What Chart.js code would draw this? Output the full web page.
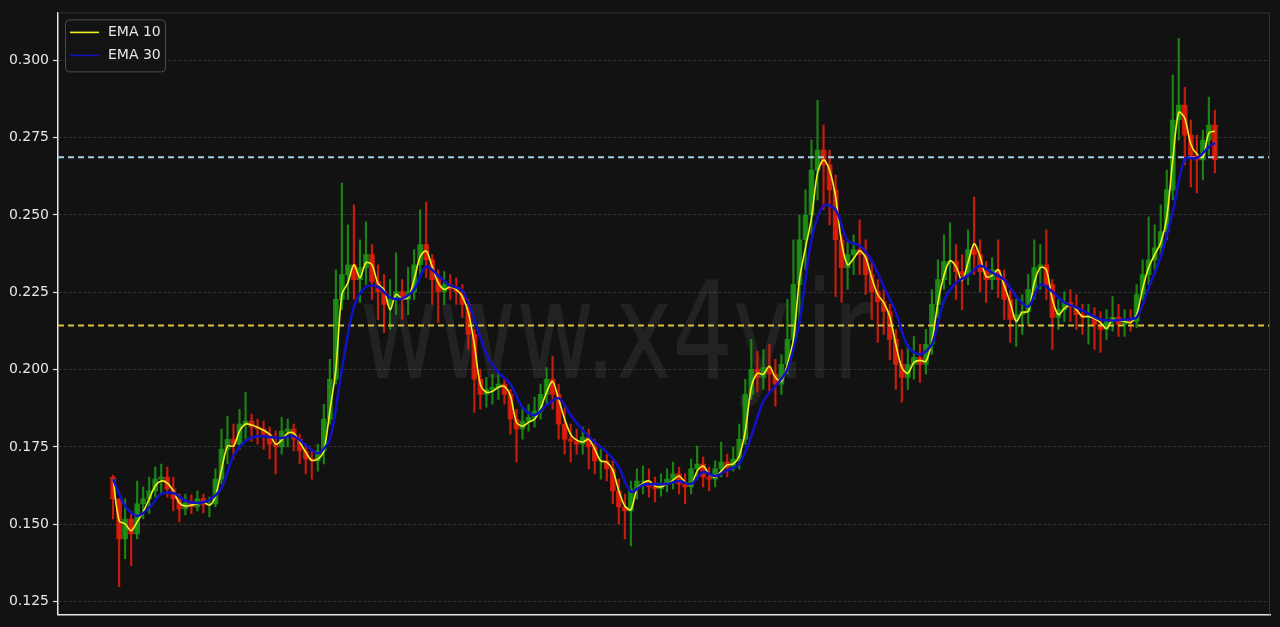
<!DOCTYPE html>
<html lang="en">
<head>
  <meta charset="UTF-8" />
  <title>EMA 10 / EMA 30</title>
  <script src="https://cdn.jsdelivr.net/npm/chart.js"></script>
  <style>
    html, body { margin: 0; padding: 0; background: #121212; }
    #wrap { width: 1280px; height: 627px; }
  </style>
</head>
<body>
  <div id="wrap"><canvas id="emaChart" width="1280" height="627"></canvas></div>

  <script>
    // Candle values (one candle per bucket, left to right).
    // Open of each candle is the previous close.
    const firstOpen = 0.1653;
    const closes = [
      .1582, .1453, .1517, .1469, .1566, .1582, .1608, .1646, .1653, .1614,
      .1582, .1550, .1569, .1556, .1582, .1563, .1566, .1646, .1743, .1775,
      .1759, .1824, .1834, .1814, .1808, .1791, .1759, .1750, .1801, .1808,
      .1775, .1737, .1711, .1705, .1737, .1840, .1969, .2227, .2307, .2339,
      .2291, .2330, .2372, .2285, .2252, .2211, .2227, .2252, .2227, .2252,
      .2339, .2404, .2355, .2291, .2252, .2275, .2259, .2252, .2211, .2114,
      .1969, .1920, .1936, .1943, .1953, .1920, .1840, .1808, .1834, .1846,
      .1866, .1920, .1969, .1920, .1824, .1775, .1769, .1759, .1782, .1750,
      .1705, .1705, .1679, .1608, .1556, .1543, .1614, .1640, .1640, .1621,
      .1614, .1630, .1646, .1663, .1630, .1621, .1679, .1695, .1653, .1646,
      .1679, .1701, .1685, .1711, .1775, .1920, .2001, .1975, .2007, .1985,
      .1953, .2017, .2098, .2275, .2420, .2500, .2645, .2710, .2662, .2581,
      .2420, .2330, .2372, .2388, .2372, .2307, .2252, .2220, .2188, .2098,
      .2017, .1975, .2017, .2040, .2017, .2082, .2211, .2291, .2349, .2349,
      .2317, .2307, .2388, .2372, .2317, .2291, .2323, .2291, .2227, .2162,
      .2178, .2188, .2259, .2330, .2339, .2275, .2169, .2194, .2217, .2201,
      .2178, .2169, .2169, .2146, .2130, .2156, .2169, .2146, .2162, .2156,
      .2243, .2307, .2355, .2394, .2446, .2581, .2807, .2855, .2758, .2694,
      .2678, .2742, .2791, .2678
    ];
    const highs = [
      .1659, .1566, .1582, .1543, .1640, .1621, .1653, .1685, .1695, .1685,
      .1653, .1598, .1598, .1595, .1608, .1598, .1588, .1679, .1808, .1849,
      .1824, .1872, .1927, .1856, .1840, .1834, .1814, .1801, .1846, .1840,
      .1824, .1791, .1759, .1743, .1759, .1888, .2033, .2323, .2603, .2468,
      .2533, .2420, .2478, .2404, .2339, .2307, .2291, .2378, .2291, .2330,
      .2388, .2517, .2542, .2372, .2323, .2317, .2307, .2297, .2275, .2227,
      .2130, .2001, .1975, .1985, .1985, .1975, .1936, .1872, .1879, .1888,
      .1911, .1953, .2007, .2043, .1953, .1879, .1824, .1808, .1814, .1808,
      .1775, .1743, .1727, .1705, .1646, .1598, .1640, .1679, .1688, .1679,
      .1653, .1663, .1679, .1701, .1685, .1663, .1711, .1753, .1717, .1685,
      .1705, .1766, .1727, .1750, .1824, .1969, .2098, .2059, .2065, .2082,
      .2033, .2049, .2227, .2420, .2500, .2581, .2742, .2871, .2791, .2710,
      .2629, .2436, .2420, .2436, .2484, .2420, .2349, .2291, .2259, .2211,
      .2130, .2065, .2082, .2107, .2082, .2130, .2259, .2355, .2436, .2475,
      .2404, .2372, .2452, .2558, .2420, .2349, .2362, .2420, .2323, .2259,
      .2227, .2243, .2307, .2420, .2404, .2452, .2291, .2227, .2252, .2259,
      .2243, .2211, .2211, .2201, .2188, .2194, .2236, .2211, .2194, .2194,
      .2275, .2355, .2494, .2468, .2533, .2645, .2952, .3071, .2913, .2807,
      .2758, .2774, .2881, .2839
    ];
    const lows = [
      .1517, .1298, .1389, .1366, .1453, .1517, .1534, .1588, .1598, .1588,
      .1543, .1508, .1530, .1534, .1543, .1537, .1524, .1556, .1630, .1695,
      .1711, .1743, .1775, .1769, .1759, .1743, .1711, .1663, .1727, .1750,
      .1737, .1695, .1663, .1646, .1672, .1695, .1824, .1953, .2194, .2227,
      .2227, .2217, .2275, .2227, .2162, .2120, .2130, .2178, .2162, .2178,
      .2227, .2307, .2297, .2211, .2153, .2211, .2227, .2211, .2169, .2065,
      .1862, .1872, .1879, .1888, .1904, .1888, .1791, .1701, .1775, .1801,
      .1814, .1840, .1888, .1872, .1775, .1727, .1701, .1727, .1727, .1679,
      .1663, .1646, .1640, .1566, .1501, .1453, .1430, .1582, .1598, .1588,
      .1572, .1591, .1605, .1614, .1598, .1566, .1598, .1646, .1621, .1608,
      .1621, .1653, .1653, .1672, .1679, .1759, .1904, .1927, .1936, .1930,
      .1882, .1920, .1985, .2065, .2153, .2323, .2436, .2549, .2517, .2468,
      .2236, .2217, .2259, .2307, .2307, .2243, .2162, .2088, .2114, .2033,
      .1936, .1895, .1936, .1969, .1959, .1985, .2049, .2169, .2259, .2275,
      .2227, .2194, .2275, .2307, .2252, .2217, .2259, .2233, .2162, .2088,
      .2075, .2114, .2146, .2227, .2259, .2227, .2065, .2130, .2156, .2156,
      .2130, .2114, .2082, .2065, .2056, .2098, .2124, .2107, .2107, .2124,
      .2136, .2227, .2275, .2323, .2372, .2420, .2549, .2742, .2662, .2591,
      .2571, .2613, .2694, .2636
    ];

    // EMA 10, one value per candle
    const ema10 = [
      .1646, .1511, .1501, .1479, .1508, .1540, .1582, .1624, .1640, .1633,
      .1608, .1569, .1559, .1562, .1566, .1572, .1562, .1591, .1675, .1753,
      .1753, .1801, .1824, .1821, .1814, .1804, .1791, .1759, .1772, .1795,
      .1795, .1766, .1733, .1707, .1711, .1737, .1866, .2001, .2243, .2281,
      .2339, .2297, .2346, .2339, .2278, .2259, .2194, .2243, .2230, .2233,
      .2291, .2365, .2384, .2333, .2281, .2259, .2268, .2259, .2236, .2185,
      .2082, .1952, .1927, .1930, .1943, .1946, .1914, .1830, .1817, .1830,
      .1840, .1875, .1927, .1962, .1904, .1840, .1791, .1772, .1766, .1775,
      .1743, .1705, .1701, .1675, .1608, .1559, .1547, .1614, .1633, .1640,
      .1624, .1621, .1630, .1643, .1656, .1637, .1627, .1672, .1688, .1663,
      .1653, .1672, .1692, .1695, .1721, .1801, .1943, .1988, .1985, .2011,
      .1975, .1962, .2017, .2098, .2291, .2394, .2491, .2636, .2678, .2645,
      .2559, .2410, .2339, .2359, .2384, .2362, .2297, .2243, .2217, .2172,
      .2082, .2007, .1988, .2023, .2030, .2027, .2091, .2217, .2304, .2352,
      .2333, .2288, .2346, .2407, .2365, .2301, .2304, .2323, .2272, .2217,
      .2156, .2185, .2188, .2281, .2330, .2323, .2227, .2178, .2198, .2210,
      .2194, .2172, .2172, .2165, .2152, .2133, .2162, .2159, .2156, .2152,
      .2178, .2262, .2330, .2372, .2410, .2491, .2678, .2832, .2813, .2729,
      .2697, .2687, .2765, .2771
    ];

    // EMA 30, one value every second candle (last one on the final candle)
    const ema30 = [
      .1646, .1559, .1527, .1553, .1598, .1601, .1576, .1569, .1579, .1618,
      .1721, .1769, .1785, .1782, .1779, .1785, .1756, .1730, .1775, .2001,
      .2204, .2268, .2268, .2233, .2230, .2259, .2333, .2304, .2272, .2256,
      .2162, .2049, .1991, .1953, .1878, .1853, .1885, .1908, .1853, .1804,
      .1766, .1733, .1685, .1605, .1627, .1630, .1630, .1640, .1630, .1669,
      .1656, .1675, .1695, .1785, .1898, .1946, .2001, .2156, .2420, .2530,
      .2517, .2417, .2401, .2352, .2268, .2185, .2075, .2049, .2082, .2223,
      .2281, .2304, .2336, .2314, .2291, .2236, .2204, .2275, .2252, .2217,
      .2201, .2181, .2162, .2159, .2162, .2169, .2265, .2365, .2510, .2681,
      .2684, .2720, .2733
    ];

    // Horizontal dashed levels
    const resistanceLevel = 0.2687;
    const supportLevel = 0.2143;

    const yTicks = [0.125, 0.150, 0.175, 0.200, 0.225, 0.250, 0.275, 0.300];
    const legendLabels = ["EMA 10", "EMA 30"];
    const watermarkText = "www.x4y.ir";

    const ema10Color = "#f0f020";
    const ema30Color = "#1212c0";
    const upColor = "rgba(30,150,20,0.85)";
    const downColor = "rgba(230,30,10,0.85)";

    const N = closes.length;
    const opens = closes.map((c, i) => (i === 0 ? firstOpen : closes[i - 1]));
    const candleColors = closes.map((c, i) => (c >= opens[i] ? upColor : downColor));
    const wickData = closes.map((c, i) => ({
      x: i,
      y: [Math.min(lows[i], opens[i], c), Math.max(highs[i], opens[i], c)]
    }));
    const bodyData = closes.map((c, i) => ({
      x: i,
      y: [Math.min(opens[i], c), Math.max(opens[i], c)]
    }));
    const ema10Points = ema10.map((v, i) => ({ x: i, y: v }));
    const ema30Points = ema30.map((v, k) => ({ x: Math.min(2 * k, N - 1), y: v }));

    const xMin = -0.05 * (N - 1);
    const xMax = 1.05 * (N - 1);

    // Dark page background
    const background = {
      id: "background",
      beforeDraw(chart) {
        const ctx = chart.ctx;
        ctx.save();
        ctx.fillStyle = "#121212";
        ctx.fillRect(0, 0, chart.width, chart.height);
        ctx.restore();
      }
    };

    // Faint watermark behind the candles
    const watermark = {
      id: "watermark",
      beforeDatasetsDraw(chart) {
        const ctx = chart.ctx;
        ctx.save();
        ctx.font = '135px "DejaVu Sans"';
        ctx.fillStyle = "rgba(255,255,255,0.07)";
        ctx.textBaseline = "alphabetic";
        const w = ctx.measureText(watermarkText).width;
        ctx.translate(360, 378);
        ctx.scale(512 / w, 1);
        ctx.fillText(watermarkText, 0, 0);
        ctx.restore();
      }
    };

    // Grey top and right frame lines
    const frame = {
      id: "frame",
      afterDatasetsDraw(chart) {
        const { ctx, chartArea: a } = chart;
        ctx.save();
        ctx.strokeStyle = "#333333";
        ctx.lineWidth = 1;
        ctx.beginPath();
        ctx.moveTo(a.left, a.top + 0.5);
        ctx.lineTo(a.right - 0.5, a.top + 0.5);
        ctx.lineTo(a.right - 0.5, a.bottom);
        ctx.stroke();
        ctx.restore();
      }
    };

    // Boxed legend in the top left corner of the plot
    const legendBox = {
      id: "legendBox",
      afterDraw(chart) {
        const { ctx, chartArea: a } = chart;
        const x = a.left + 7, y = a.top + 7, w = 100, h = 52;
        ctx.save();
        ctx.fillStyle = "rgba(20,20,20,0.85)";
        ctx.strokeStyle = "#4a4a4a";
        ctx.lineWidth = 1;
        ctx.beginPath();
        ctx.roundRect(x + 0.5, y + 0.5, w, h, 4);
        ctx.fill();
        ctx.stroke();
        const colors = [ema10Color, ema30Color];
        ctx.font = '14px "DejaVu Sans"';
        ctx.textBaseline = "middle";
        legendLabels.forEach((label, i) => {
          const ly = y + 13 + i * 23;
          ctx.strokeStyle = colors[i];
          ctx.lineWidth = 1.6;
          ctx.beginPath();
          ctx.moveTo(x + 5, ly);
          ctx.lineTo(x + 34, ly);
          ctx.stroke();
          ctx.fillStyle = "#e6e6e6";
          ctx.fillText(label, x + 43, ly);
        });
        ctx.restore();
      }
    };

    const ctx = document.getElementById("emaChart").getContext("2d");

    new Chart(ctx, {
      type: "bar",
      data: {
        datasets: [
          {
            type: "line",
            label: "EMA 30",
            data: ema30Points,
            borderColor: ema30Color,
            borderWidth: 2.6,
            pointRadius: 0,
            tension: 0.3,
            order: 1
          },
          {
            type: "line",
            label: "EMA 10",
            data: ema10Points,
            borderColor: ema10Color,
            borderWidth: 1.6,
            pointRadius: 0,
            tension: 0.3,
            order: 2
          },
          {
            type: "line",
            label: "Resistance",
            data: [{ x: xMin, y: resistanceLevel }, { x: xMax, y: resistanceLevel }],
            borderColor: "#a6cde0",
            borderWidth: 2,
            borderDash: [6, 4],
            pointRadius: 0,
            order: 3
          },
          {
            type: "line",
            label: "Support",
            data: [{ x: xMin, y: supportLevel }, { x: xMax, y: supportLevel }],
            borderColor: "#dcc03c",
            borderWidth: 2,
            borderDash: [6, 4],
            pointRadius: 0,
            order: 3
          },
          {
            label: "Body",
            data: bodyData,
            backgroundColor: candleColors,
            barThickness: 5,
            grouped: false,
            order: 4
          },
          {
            label: "Wick",
            data: wickData,
            backgroundColor: candleColors,
            barThickness: 1.5,
            grouped: false,
            order: 5
          }
        ]
      },
      options: {
        responsive: false,
        devicePixelRatio: 1,
        animation: false,
        layout: { padding: { top: 12, right: 10, left: 0, bottom: 0 } },
        plugins: {
          legend: { display: false },
          tooltip: { enabled: false }
        },
        scales: {
          x: {
            type: "linear",
            min: xMin,
            max: xMax,
            offset: false,
            ticks: { display: false },
            grid: { display: false, drawTicks: false },
            border: { display: true, color: "#e6e6e6", width: 1.5 },
            afterFit: (s) => { s.height = 11; }
          },
          y: {
            type: "linear",
            min: 0.1208,
            max: 0.3155,
            afterBuildTicks: (s) => { s.ticks = yTicks.map((v) => ({ value: v })); },
            afterFit: (s) => { s.width = 58; },
            ticks: {
              color: "#e6e6e6",
              font: { family: "DejaVu Sans", size: 14 },
              padding: 4,
              callback: (v) => Number(v).toFixed(3)
            },
            grid: {
              color: "rgba(255,255,255,0.18)",
              lineWidth: 0.8,
              tickLength: 5,
              tickColor: "#dddddd",
              tickWidth: 1.2
            },
            border: { display: true, color: "#e6e6e6", width: 1.5, dash: [3, 2] }
          }
        }
      },
      plugins: [background, watermark, frame, legendBox]
    });
  </script>
</body>
</html>
